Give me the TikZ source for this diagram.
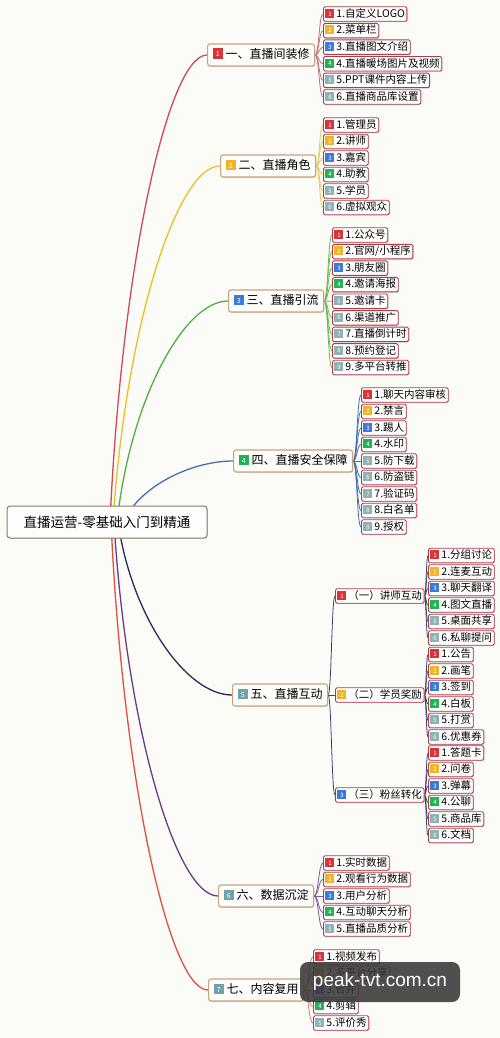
\documentclass[tikz,border=0pt]{standalone}
\usepackage{fontspec}
\setmainfont{Noto Sans CJK SC}
\newfontfamily\latinsans{Liberation Sans}
\usetikzlibrary{calc,shadows}
\pgfdeclarelayer{paper}
\pgfdeclarelayer{edges}
\pgfsetlayers{paper,edges,main}
\definecolor{paperc}{HTML}{FBFBF7}
\definecolor{leafborder}{HTML}{B03A48}
\definecolor{mainborder}{HTML}{C8A478}
\definecolor{rootborder}{HTML}{8A7A6A}
\definecolor{ic1}{HTML}{D8343C}
\definecolor{ic2}{HTML}{F0B428}
\definecolor{ic3}{HTML}{3C7AD8}
\definecolor{ic4}{HTML}{20B455}
\definecolor{ic5}{HTML}{8FB2B4}
\definecolor{ic6}{HTML}{8FB2B4}
\definecolor{ic7}{HTML}{8FB2B4}
\definecolor{ic8}{HTML}{8FB2B4}
\definecolor{ic9}{HTML}{8FB2B4}
\definecolor{mic}{HTML}{6FA2AA}
\definecolor{t1}{HTML}{D0485A}
\definecolor{t2}{HTML}{ECC020}
\definecolor{t3}{HTML}{50B040}
\definecolor{t4}{HTML}{4A6FA8}
\definecolor{t5}{HTML}{2A2A60}
\definecolor{t6}{HTML}{6A3A90}
\definecolor{t7}{HTML}{E05040}
\definecolor{k1}{HTML}{C07080}
\definecolor{k2}{HTML}{E8C850}
\definecolor{k3}{HTML}{70B850}
\definecolor{k4}{HTML}{4870B0}
\definecolor{k5}{HTML}{404070}
\definecolor{k6}{HTML}{7A5A9A}
\definecolor{k7}{HTML}{D08070}
\newcommand\ic[2]{{\setlength{\fboxsep}{0pt}\colorbox{#1}{\makebox[9pt]{\rule[-0.5pt]{0pt}{9pt}\raisebox{1.2pt}{\color{white}\fontsize{6}{6}\selectfont #2}}}}\hspace{2pt}}
\newcommand\icb[2]{{\setlength{\fboxsep}{0pt}\colorbox{#1}{\makebox[10.5pt]{\rule[-0.5pt]{0pt}{10.5pt}\raisebox{1.5pt}{\color{white}\fontsize{7}{7}\selectfont #2}}}}\hspace{2.5pt}}
\tikzset{
  leaf/.style={draw=leafborder, line width=0.9pt, fill=white, rounded corners=1.5pt,
    inner xsep=2pt, inner ysep=2pt, text height=8.5pt, text depth=2pt, anchor=west,
    font=\fontsize{10.5}{11}\selectfont,
    drop shadow={shadow xshift=0.8pt, shadow yshift=-0.8pt, fill=black!35, opacity=0.5}},
  mainn/.style={draw=mainborder, line width=1.1pt, fill=white!60!paperc, rounded corners=2.5pt,
    inner xsep=5pt, inner ysep=5pt, text height=9.5pt, text depth=2.5pt, anchor=west,
    font=\fontsize{12}{13}\selectfont,
    drop shadow={shadow xshift=0.8pt, shadow yshift=-0.8pt, fill=black!30, opacity=0.5}},
  rootn/.style={draw=rootborder, line width=1pt, fill=white!60!paperc, rounded corners=3pt,
    minimum width=200pt, minimum height=32pt, font=\fontsize{13.5}{14}\selectfont,
    drop shadow={shadow xshift=0.8pt, shadow yshift=-0.8pt, fill=black!30, opacity=0.5}},
  trunkline/.style={line width=1.3pt},
  kid/.style={line width=0.8pt}
}
\newcommand\trunk[3]{%
  \draw[#1, trunkline] let \p1=(#2), \p2=(#3.west) in (\p1) .. controls ({\x1+0.12*(\x2-\x1)},{\y1+0.55*(\y2-\y1)}) and ({\x2-0.4*(\x2-\x1)},\y2) .. (\p2);}
\newcommand\kidedge[3]{%
  \draw[#1, kid] let \p1=(#2.east), \p2=(#3.west) in (\p1) .. controls ({(\x1+\x2)/2},\y1) and ({(\x1+\x2)/2},\y2) .. (\p2);}
\newcommand\branch[6]{% #1 parent, #2 x, #3 first y, #4 step, #5 edge colour, #6 items
  \foreach \txt [count=\i] in {#6} {
    \node[leaf] (#1-\i) at (#2, {#3+(\i-1)*#4}) {\ic{ic\i}{\i}\txt};
    \begin{pgfonlayer}{edges}
      \kidedge{#5}{#1}{#1-\i}
    \end{pgfonlayer}
  }}
\begin{document}
\begin{tikzpicture}[x=1pt, y=-1pt]
\useasboundingbox (0,0) rectangle (500,1038);
\begin{pgfonlayer}{paper}
  \fill[paperc] (0,0) rectangle (500,1038);
\end{pgfonlayer}

% root
\node[rootn] (root) at (107,522) {直播运营-零基础入门到精通};
\coordinate (s1) at (110,522);
\coordinate (s2) at (113,522);
\coordinate (s3) at (117,522);
\coordinate (s4) at (124,522);
\coordinate (s5) at (118,522);
\coordinate (s6) at (114,522);
\coordinate (s7) at (111,522);

% main topics
\node[mainn] (m1) at (207,55) {\icb{ic1}{1}一、直播间装修};
\node[mainn] (m2) at (220,166) {\icb{ic2}{2}二、直播角色};
\node[mainn] (m3) at (228,301) {\icb{ic3}{3}三、直播引流};
\node[mainn] (m4) at (233,461) {\icb{ic4}{4}四、直播安全保障};
\node[mainn] (m5) at (232,695) {\icb{mic}{5}五、直播互动};
\node[mainn] (m6) at (218,896) {\icb{mic}{6}六、数据沉淀};
\node[mainn] (m7) at (208,990) {\icb{mic}{7}七、内容复用};

\begin{pgfonlayer}{edges}
  \trunk{t1}{s1}{m1}
  \trunk{t2}{s2}{m2}
  \trunk{t3}{s3}{m3}
  \trunk{t4}{s4}{m4}
  \trunk{t5}{s5}{m5}
  \trunk{t6}{s6}{m6}
  \trunk{t7}{s7}{m7}
\end{pgfonlayer}

% sub topics of 5
\node[leaf] (u1) at (335,596) {\ic{ic1}{1}（一）讲师互动};
\node[leaf] (u2) at (335,695) {\ic{ic2}{2}（二）学员奖励};
\node[leaf] (u3) at (335,795) {\ic{ic3}{3}（三）粉丝转化};
\begin{pgfonlayer}{edges}
  \kidedge{k5}{m5}{u1}
  \kidedge{k5}{m5}{u2}
  \kidedge{k5}{m5}{u3}
\end{pgfonlayer}

\branch{m1}{323}{14}{16.6}{k1}{1.自定义LOGO,2.菜单栏,3.直播图文介绍,4.直播暖场图片及视频,5.PPT课件内容上传,6.直播商品库设置}
\branch{m2}{323}{125}{16.5}{k2}{1.管理员,2.讲师,3.嘉宾,4.助教,5.学员,6.虚拟观众}
\branch{m3}{332}{235}{16.56}{k3}{1.公众号,2.官网/小程序,3.朋友圈,4.邀请海报,5.邀请卡,6.渠道推广,7.直播倒计时,8.预约登记,9.多平台转推}
\branch{m4}{361}{395}{16.5}{k4}{1.聊天内容审核,2.禁言,3.踢人,4.水印,5.防下载,6.防盗链,7.验证码,8.白名单,9.授权}
\branch{u1}{428}{555.5}{16.5}{k5}{1.分组讨论,2.连麦互动,3.聊天翻译,4.图文直播,5.桌面共享,6.私聊提问}
\branch{u2}{428}{654.5}{16.5}{k5}{1.公告,2.画笔,3.签到,4.白板,5.打赏,6.优惠券}
\branch{u3}{428}{753}{16.5}{k5}{1.答题卡,2.问卷,3.弹幕,4.公聊,5.商品库,6.文档}
\branch{m6}{323}{863}{16.5}{k6}{1.实时数据,2.观看行为数据,3.用户分析,4.互动聊天分析,5.直播品质分析}
\branch{m7}{313}{957}{16.5}{k7}{1.视频发布,2.多平台分享,3.合并,4.剪辑,5.评价秀}

% overlay label
\node[fill=black!78, opacity=0.88, text opacity=1, text=white, rounded corners=8pt,
  minimum width=160pt, minimum height=40pt, font=\latinsans\fontsize{19}{20}\selectfont]
  (wm) at (380,982) {peak-tvt.com.cn};
\end{tikzpicture}
\end{document}
